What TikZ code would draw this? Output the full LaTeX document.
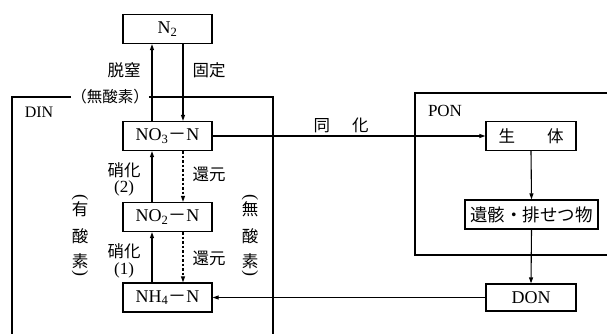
\documentclass[tikz,border=0pt]{standalone}
\usepackage{fontspec}
\usepackage{graphicx}
\setmainfont{Liberation Serif}
\newfontfamily\cjk{Noto Sans CJK JP}
\usetikzlibrary{arrows.meta}
\begin{document}
\begin{tikzpicture}[x=1pt,y=-1pt,
  box/.style={draw,line width=1.3pt,minimum width=89pt,minimum height=29pt,inner sep=0pt,font=\fontsize{18}{20}\selectfont},
  jbox/.style={box,font=\cjk\fontsize{16.5}{18}\selectfont},
  lbl/.style={font=\cjk\fontsize{16.5}{18}\selectfont,inner sep=0pt},
  vlbl/.style={lbl,align=center},
  num/.style={inner sep=0pt,font=\fontsize{17}{19}\selectfont},
  par/.style={inner sep=0pt,font=\fontsize{18}{20}\selectfont},
  arr/.style={line width=1.1pt,-{Triangle[length=6pt,width=4pt]}},
  darr/.style={arr,dash pattern=on 2.5pt off 2pt},
  frame/.style={line width=1.1pt}]
\useasboundingbox (0,0) rectangle (607,334);
% boxes
\node[box] (n2) at (167.5,29) {N\textsubscript{2}};
\node[box] (no3) at (167.5,136) {NO\textsubscript{3}{\cjk －}N};
\node[box] (no2) at (167.5,217) {NO\textsubscript{2}{\cjk －}N};
\node[box] (nh4) at (167.5,297.5) {NH\textsubscript{4}{\cjk －}N};
\node[jbox,minimum width=90pt] (sei) at (531,136) {生\hspace{32pt}体};
\node[jbox,minimum width=133pt,font=\cjk\fontsize{17.5}{19}\selectfont] (iga) at (531.5,214.5) {遺骸・排せつ物};
\node[box,minimum width=90pt,minimum height=27pt] (don) at (531,297.5) {DON};
% DIN frame
\node[lbl,font=\cjk\fontsize{15.5}{17}\selectfont] (anox) at (110,97) {（無酸素）};
\draw[frame] (anox.west) -- (12,97) -- (12,334);
\draw[frame] (anox.east) -- (273,97) -- (273,334);
\node[font=\fontsize{16}{18}\selectfont,inner sep=0pt] (din) at (39,112) {DIN};
% PON frame
\draw[frame] (607,93) -- (415,93) -- (415,255) -- (607,255);
\node[font=\fontsize{17}{19}\selectfont,inner sep=0pt] (pon) at (445,111) {PON};
% arrows N2 <-> NO3
\draw[arr] ([xshift=-15.5pt]no3.north) -- ([xshift=-15.5pt]n2.south);
\draw[arr] ([xshift=15.5pt]n2.south) -- ([xshift=15.5pt]no3.north);
\node[lbl] (dn) at (124,70) {脱窒};
\node[lbl] (fix) at (209,70) {固定};
% nitrification / reduction
\draw[arr] ([xshift=-15.5pt]no2.north) -- ([xshift=-15.5pt]no3.south);
\draw[darr] ([xshift=15.5pt]no3.south) -- ([xshift=15.5pt]no2.north);
\draw[arr] ([xshift=-15.5pt]nh4.north) -- ([xshift=-15.5pt]no2.south);
\draw[darr] ([xshift=15.5pt]no2.south) -- ([xshift=15.5pt]nh4.north);
\node[lbl] (s2) at (124,170) {硝化};
\node[num] (s2n) at (124,188) {(2)};
\node[lbl] (r2) at (209,174) {還元};
\node[lbl] (s1) at (124,251) {硝化};
\node[num] (s1n) at (124,270) {(1)};
\node[lbl] (r1) at (209,258) {還元};
% vertical labels
\node[lbl] (ox1) at (80,209) {有};
\node[lbl] (ox2) at (80,236) {酸};
\node[lbl] (ox3) at (80,261) {素};
\node[par] (oxa) at (80,197) {\rotatebox{-90}{(}};
\node[par] (oxb) at (80,273) {\rotatebox{-90}{)}};
\node[lbl] (an1) at (250,209) {無};
\node[lbl] (an2) at (250,236) {酸};
\node[lbl] (an3) at (250,261) {素};
\node[par] (ana) at (250,197) {\rotatebox{-90}{(}};
\node[par] (anb) at (250,273) {\rotatebox{-90}{)}};
% assimilation etc.
\draw[arr] (no3.east) -- (sei.west);
\node[lbl] (assim) at (341,125) {同\hspace{22pt}化};
\draw[arr] (sei.south) -- (iga.north);
\draw[arr] (iga.south) -- (don.north);
\draw[arr] (don.west) -- (nh4.east);
\end{tikzpicture}
\end{document}
